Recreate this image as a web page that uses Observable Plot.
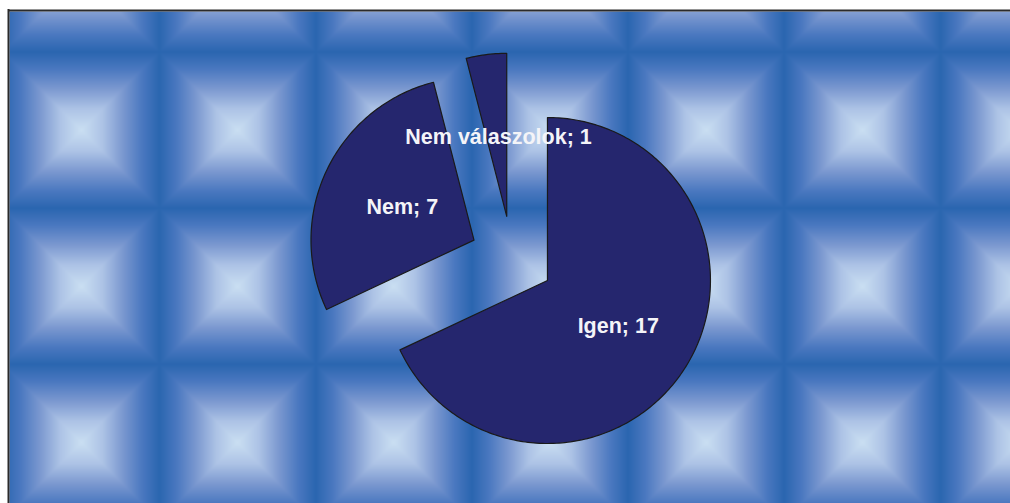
<!DOCTYPE html>
<html>
<head>
<meta charset="utf-8">
<script src="https://cdn.jsdelivr.net/npm/d3@7"></script>
<script src="https://cdn.jsdelivr.net/npm/@observablehq/plot@0.6"></script>
<style>
  html, body { margin: 0; padding: 0; background: #ffffff; }
  #chart svg { display: block; }
</style>
</head>
<body>
<div id="chart"></div>
<script>
// ---- data ----
const categories = ["Igen", "Nem", "Nem válaszolok"];
const values = [17, 7, 1];

// ---- layout ----
const W = 1010, H = 503;
const frameX = 9, frameY = 11;
const cx = 511.5, cy = 257.5, R = 163, explode = 42;
const tile = 156.2, tileX0 = 159, tileY0 = 51.5;

const rows = categories.map((c, i) => ({category: c, value: values[i]}));
const arcs = d3.pie().sort(null).value(d => d.value)(rows);

const slicePts = [];
const labels = [];
for (const a of arcs) {
  const mid = (a.startAngle + a.endAngle) / 2;
  const vx = cx + explode * Math.sin(mid);
  const vy = cy - explode * Math.cos(mid);
  const c = a.data.category;
  slicePts.push({c, x: vx, y: vy});
  const n = Math.max(2, Math.ceil((a.endAngle - a.startAngle) * 180 / Math.PI));
  for (let k = 0; k <= n; k++) {
    const ang = a.startAngle + (a.endAngle - a.startAngle) * k / n;
    slicePts.push({c, x: vx + R * Math.sin(ang), y: vy - R * Math.cos(ang)});
  }
  labels.push({
    text: `${c}; ${a.data.value}`,
    x: vx + 0.5 * R * Math.sin(mid),
    y: vy - 0.5 * R * Math.cos(mid)
  });
}

// pillow tile texture value: 0 at tile centre, 1 at tile edge
function pillow(x, y) {
  let u = ((x - tileX0) / tile) % 1; if (u < 0) u += 1;
  let v = ((y - tileY0) / tile) % 1; if (v < 0) v += 1;
  return Math.max(Math.abs(u - 0.5), Math.abs(v - 0.5)) * 2;
}

const chart = Plot.plot({
  width: W,
  height: H,
  margin: 0,
  style: {background: "#ffffff", fontFamily: "'Liberation Sans', Arial, sans-serif"},
  x: {domain: [0, W], range: [0, W], axis: null},
  y: {domain: [0, H], range: [0, H], axis: null},
  color: {
    type: "linear",
    domain: [1, 0.78, 0.53, 0.27, 0],
    range: ["#2a66b0", "#4a78c0", "#7b98d0", "#adc3e6", "#cadff2"],
    interpolate: "rgb"
  },
  marks: [
    Plot.raster({
      x1: frameX, x2: W, y1: frameY, y2: H,
      width: W - frameX, height: H - frameY,
      fill: (x, y) => pillow(x, y),
      imageRendering: "auto"
    }),
    Plot.ruleY([frameY - 1], {x1: frameX - 1, x2: W, stroke: "#2b2b2b", strokeWidth: 2}),
    Plot.ruleX([frameX - 1], {y1: frameY - 2, y2: H, stroke: "#2b2b2b", strokeWidth: 2}),
    Plot.line(slicePts, {
      x: "x", y: "y", z: "c",
      curve: "linear-closed",
      fill: "#25266e",
      stroke: "#1a1a1a",
      strokeWidth: 1.2
    }),
    Plot.text(labels, {
      x: "x", y: "y", text: "text",
      dx: 2, dy: 2,
      fill: "#f4f4f8",
      fontSize: 21.5,
      fontWeight: "bold",
      fontFamily: "'Liberation Sans', Arial, sans-serif"
    })
  ]
});
document.getElementById("chart").appendChild(chart);
</script>
</body>
</html>
